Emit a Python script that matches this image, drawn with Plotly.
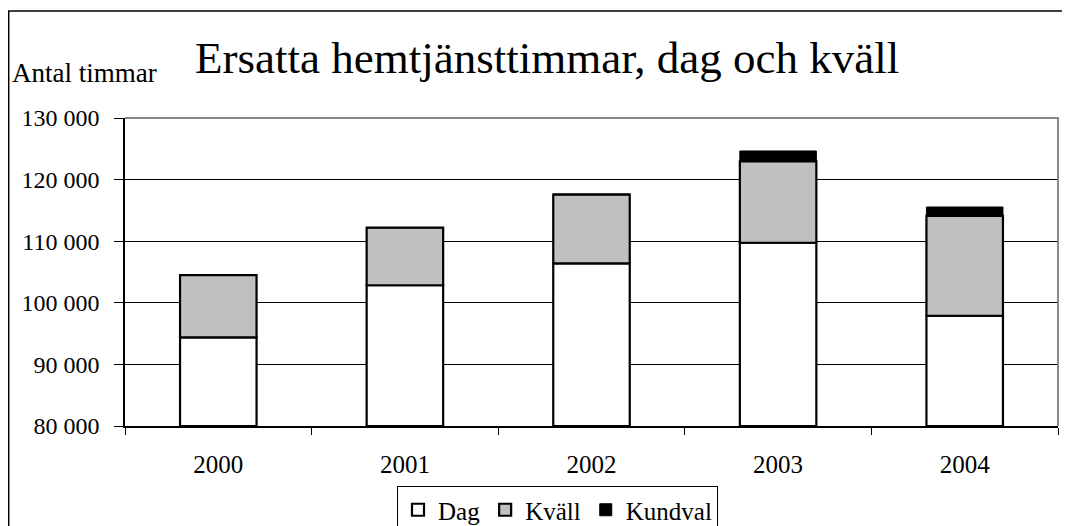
import plotly.graph_objects as go

years = ["2000", "2001", "2002", "2003", "2004"]
dag = [94400, 102850, 106400, 109750, 97900]
kvall = [10100, 9350, 11150, 13200, 16200]
kundval = [0, 0, 120, 1700, 1450]
y_ticks = [80000, 90000, 100000, 110000, 120000, 130000]
y_tick_labels = ["80 000", "90 000", "100 000", "110 000", "120 000", "130 000"]
AXIS_MIN = 80000

# page body has an 8px margin; figure sized so it fills the 1070x526 window
OFF = 8
W, H = 1062, 518
ML, MR, MT, MB = 117, 12, 110, 100
PW, PH = W - ML - MR, H - MT - MB

def px_x(p):  # screen px -> paper
    return (p - OFF - ML) / PW

def px_y(p):
    return (H - MB - (p - OFF)) / PH

FONT = "Liberation Serif"

dag_h = [d - AXIS_MIN for d in dag]
kv_base = list(dag)
ku_base = [d + k for d, k in zip(dag, kvall)]

fig = go.Figure()
fig.add_trace(go.Bar(name="Dag", x=years, y=dag_h, base=AXIS_MIN,
                     marker=dict(color="white", line=dict(color="black", width=2.2))))
fig.add_trace(go.Bar(name="Kväll", x=years, y=kvall, base=kv_base,
                     marker=dict(color="#C0C0C0", line=dict(color="black", width=2.2))))
fig.add_trace(go.Bar(name="Kundval", x=years, y=kundval, base=ku_base,
                     marker=dict(color="black", line=dict(color="black", width=1))))

fig.update_layout(
    width=W, height=H,
    margin=dict(l=ML, r=MR, t=MT, b=MB, autoexpand=False),
    paper_bgcolor="white", plot_bgcolor="white",
    barmode="overlay", bargap=0.59,
    font=dict(family=FONT, color="black"),
    showlegend=True,
    legend=dict(orientation="h", x=px_x(397), xanchor="left",
                y=px_y(486), yanchor="top", traceorder="normal",
                font=dict(size=25, family=FONT), bordercolor="black",
                borderwidth=1, bgcolor="white",
                itemwidth=30, tracegroupgap=0),
    xaxis=dict(type="category", tickson="boundaries", ticks="outside",
               ticklen=7, tickcolor="black", showline=True, linecolor="black",
               linewidth=1.5, showgrid=False,
               tickfont=dict(size=25, family=FONT),
               ticklabelstandoff=15),
    yaxis=dict(range=[80000, 130000], tickvals=y_ticks, ticktext=y_tick_labels,
               ticks="outside", ticklen=9, tickcolor="black", showline=True,
               linecolor="black", linewidth=1.5, showgrid=True,
               gridcolor="black", gridwidth=1, zeroline=False,
               tickfont=dict(size=24, family=FONT), ticklabelstandoff=10),
    annotations=[
        dict(text="Ersatta hemtjänsttimmar, dag och kväll", xref="paper",
             yref="paper", x=px_x(547), y=px_y(58), xanchor="center",
             yanchor="middle", showarrow=False, font=dict(size=45, family=FONT)),
        dict(text="Antal timmar", xref="paper", yref="paper",
             x=px_x(10), y=px_y(73), xanchor="left", yanchor="middle",
             showarrow=False, font=dict(size=27, family=FONT)),
    ],
    shapes=[
        dict(type="path", xref="paper", yref="paper",
             path="M 0,1 L 1,1 L 1,0", line=dict(color="#888888", width=2),
             layer="above"),
        dict(type="line", xref="paper", yref="paper",
             x0=px_x(8.7), x1=px_x(8.7), y0=px_y(530), y1=px_y(11),
             line=dict(color="black", width=1.5), layer="above"),
        dict(type="line", xref="paper", yref="paper",
             x0=px_x(8), x1=px_x(1070), y0=px_y(11), y1=px_y(11),
             line=dict(color="black", width=1.5), layer="above"),
    ],
)

fig.write_html("out.html", config={"displayModeBar": False})
